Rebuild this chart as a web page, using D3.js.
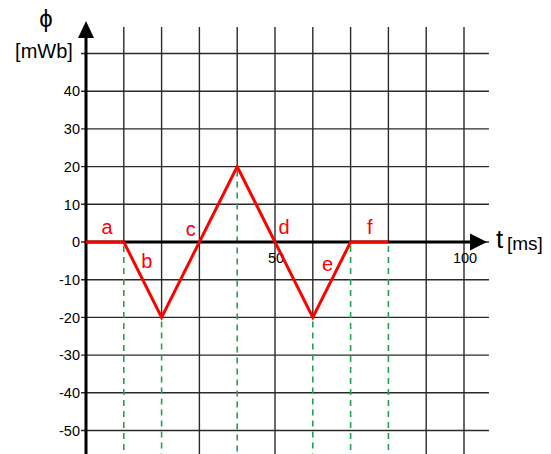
<!DOCTYPE html>
<html>
<head>
<meta charset="utf-8">
<script src="https://cdn.jsdelivr.net/npm/d3@7"></script>
<style>
  body { margin: 0; background: #fff; }
  text { font-family: "Liberation Sans", Arial, sans-serif; }
</style>
</head>
<body>
<div id="chart"></div>
<script>
// flux waveform, t in ms, phi in mWb
const tMs = [0, 10, 20, 40, 60, 70, 80];
const phi = [0, 0, -20, 20, -20, 0, 0];

// segment names and where they sit (in data units)
const segNames = ["a", "b", "c", "d", "e", "f"];
const segLabelT = [5.6, 16.1, 27.7, 52.4, 63.9, 75.1];
const segLabelPhi = [2.2, -6.8, 1.7, 2.2, -7.6, 2.2];

// dashed guide lines drop from these points
const guideT = [10, 20, 40, 60, 70, 80];
const guidePhi = [0, -20, 20, -20, 0, 0];

const yTicks = [40, 30, 20, 10, 0, -10, -20, -30, -40, -50];
const xTickLabels = [50, 100];
const yGrid = [50, 40, 30, 20, 10, 0, -10, -20, -30, -40, -50];
const xGrid = [10, 20, 30, 40, 50, 60, 70, 80, 90, 100];

const width = 551;
const height = 454;

const svg = d3.select("#chart")
    .append("svg")
    .attr("width", width)
    .attr("height", height);

const xScale = d3.scaleLinear()
    .domain([0, 100])
    .range([86, 464]);

const yScale = d3.scaleLinear()
    .domain([-50, 50])
    .range([430.5, 53.5]);

const gridRight = xScale(106.6);
const gridTop = 27;
const bottom = height;

// grid
svg.selectAll(".hgrid")
    .data(yGrid)
    .enter()
    .append("line")
    .attr("x1", 81)
    .attr("x2", gridRight)
    .attr("y1", d => yScale(d))
    .attr("y2", d => yScale(d))
    .attr("stroke", "#2a2a2a")
    .attr("stroke-width", 1.4);

// vertical grid stops where a green guide takes over
svg.selectAll(".vgrid")
    .data(xGrid)
    .enter()
    .append("line")
    .attr("x1", d => xScale(d))
    .attr("x2", d => xScale(d))
    .attr("y1", gridTop)
    .attr("y2", d => {
        const k = guideT.indexOf(d);
        return k >= 0 ? yScale(guidePhi[k]) : bottom;
    })
    .attr("stroke", "#2a2a2a")
    .attr("stroke-width", 1.4);

// dashed green guides
svg.selectAll(".guide")
    .data(guideT)
    .enter()
    .append("line")
    .attr("x1", d => xScale(d))
    .attr("x2", d => xScale(d))
    .attr("y1", (d, i) => yScale(guidePhi[i]) + 4)
    .attr("y2", bottom)
    .attr("stroke", "#22a24e")
    .attr("stroke-width", 1.6)
    .attr("stroke-dasharray", "6,5");

// axes
const y0 = yScale(0);
svg.append("line")
    .attr("x1", xScale(0))
    .attr("x2", 472)
    .attr("y1", y0)
    .attr("y2", y0)
    .attr("stroke", "#000")
    .attr("stroke-width", 3);
svg.append("path")
    .attr("d", `M470,${y0 - 8.5} L487,${y0} L470,${y0 + 8.5} Z`)
    .attr("fill", "#000");

svg.append("line")
    .attr("x1", xScale(0))
    .attr("x2", xScale(0))
    .attr("y1", bottom)
    .attr("y2", 36)
    .attr("stroke", "#000")
    .attr("stroke-width", 3);
svg.append("path")
    .attr("d", `M${xScale(0) - 8},38 L${xScale(0)},21 L${xScale(0) + 8},38 Z`)
    .attr("fill", "#000");

// tick labels
svg.selectAll(".ylab")
    .data(yTicks)
    .enter()
    .append("text")
    .attr("x", 80)
    .attr("y", d => yScale(d))
    .attr("dy", "0.36em")
    .attr("text-anchor", "end")
    .attr("font-size", 14.5)
    .attr("fill", "#000")
    .text(d => d);

svg.selectAll(".xlab")
    .data(xTickLabels)
    .enter()
    .append("text")
    .attr("x", d => xScale(d) + 1)
    .attr("y", 263)
    .attr("text-anchor", "middle")
    .attr("font-size", 14.5)
    .attr("fill", "#000")
    .text(d => d);

// axis titles
svg.append("text")
    .attr("x", 46)
    .attr("y", 27)
    .attr("text-anchor", "middle")
    .attr("font-size", 24)
    .text("ϕ");

svg.append("text")
    .attr("x", 44)
    .attr("y", 58)
    .attr("text-anchor", "middle")
    .attr("font-size", 20)
    .text("[mWb]");

svg.append("text")
    .attr("x", 496)
    .attr("y", 248)
    .attr("font-size", 26)
    .text("t");

svg.append("text")
    .attr("x", 507)
    .attr("y", 250)
    .attr("font-size", 19)
    .text("[ms]");

// waveform
const line = d3.line()
    .x(d => xScale(d[0]))
    .y(d => yScale(d[1]));

svg.append("path")
    .datum(tMs.map((t, i) => [t, phi[i]]))
    .attr("d", line)
    .attr("fill", "none")
    .attr("stroke", "#ff0000")
    .attr("stroke-width", 3);

svg.selectAll(".seg")
    .data(segNames)
    .enter()
    .append("text")
    .attr("x", (d, i) => xScale(segLabelT[i]))
    .attr("y", (d, i) => yScale(segLabelPhi[i]))
    .attr("text-anchor", "middle")
    .attr("font-size", 20)
    .attr("fill", "#ff0000")
    .text(d => d);
</script>
</body>
</html>
